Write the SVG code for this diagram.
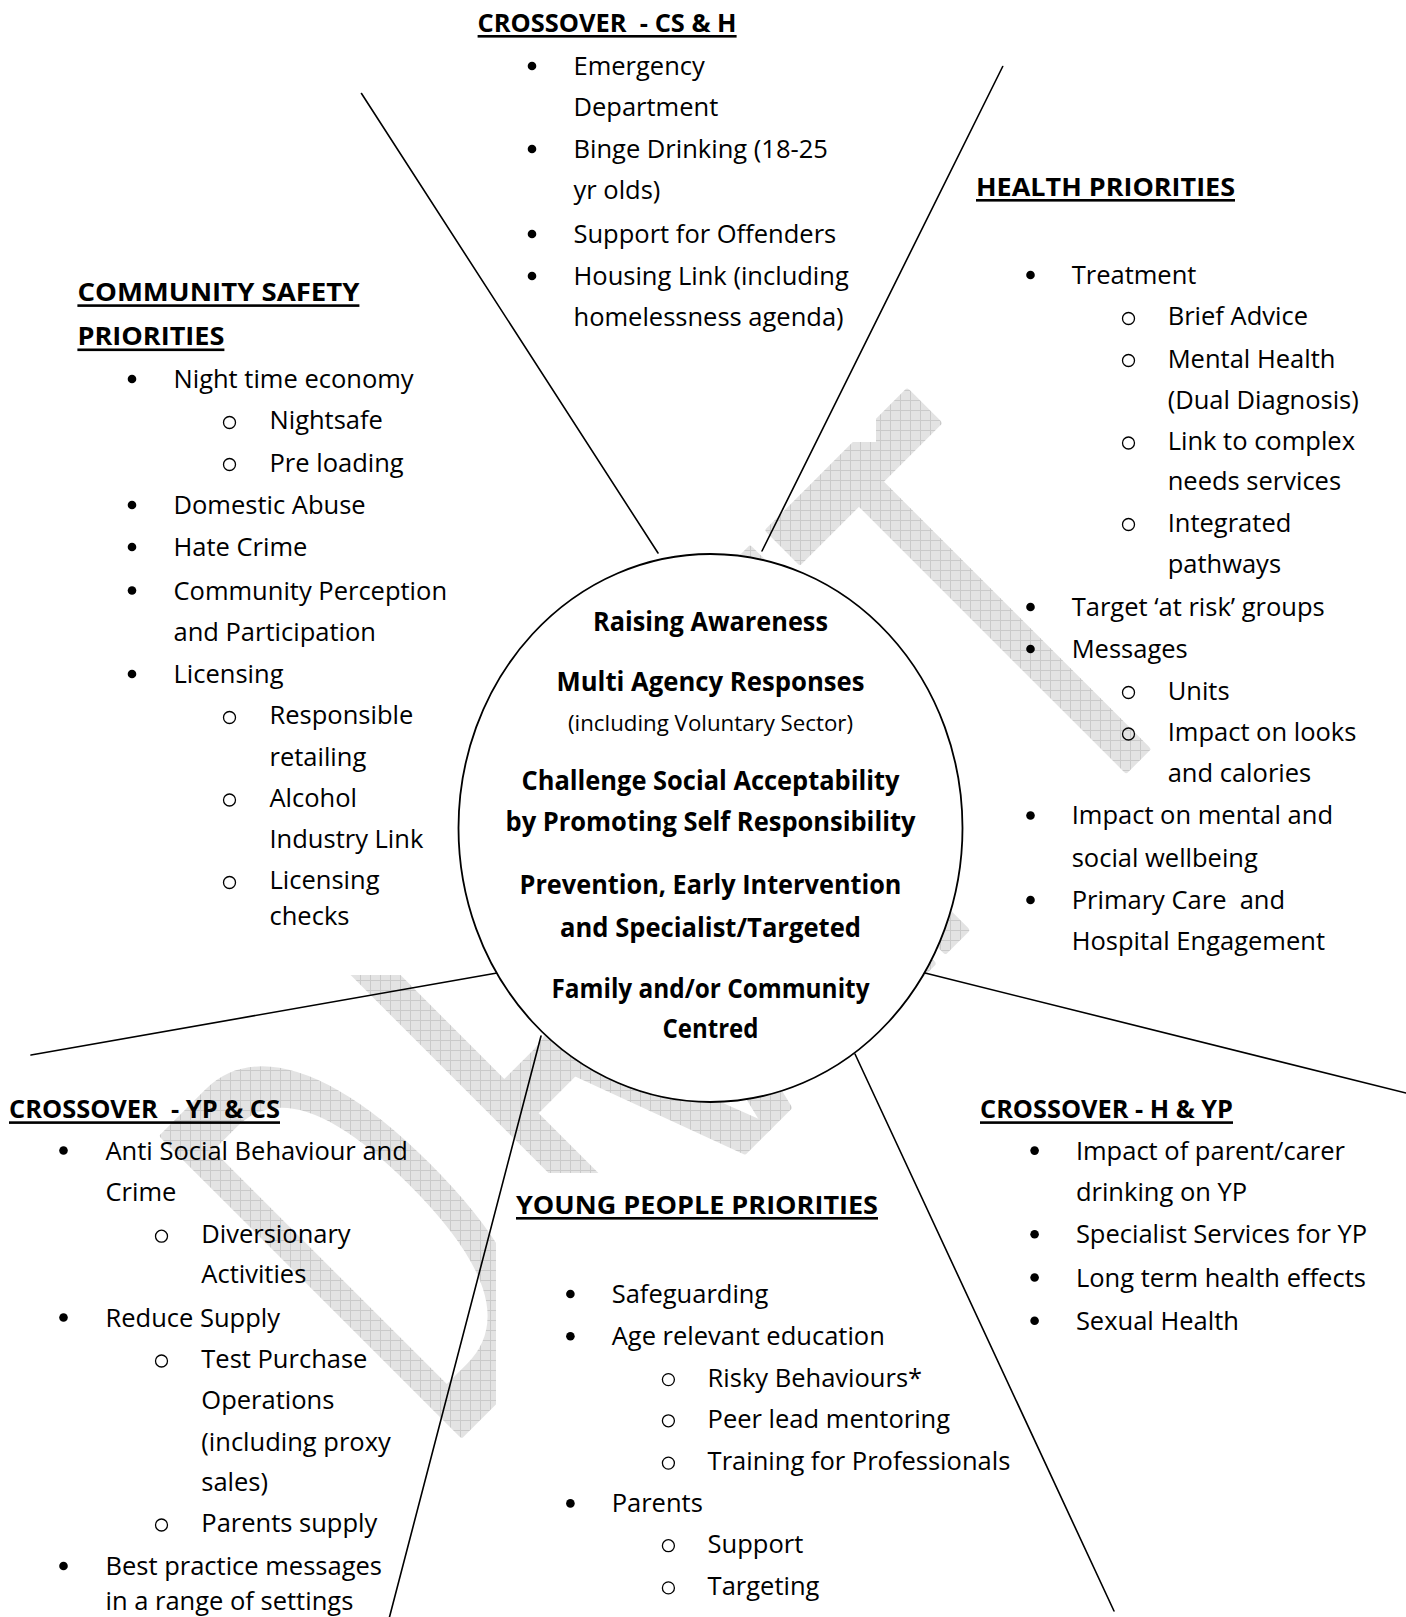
<svg xmlns="http://www.w3.org/2000/svg" width="1406" height="1617" viewBox="0 0 1406 1617">
  <style>
    .t { font-family: "Open Sans", "Noto Sans", "DejaVu Sans", sans-serif; font-size: 25.5px; fill: #000; }
    .h { font-weight: bold; }
    .c { font-weight: bold; font-size: 26.5px; text-anchor: middle; }
    .s { font-size: 22.2px; text-anchor: middle; }
    .dot { fill: #000; }
    .ring { fill: none; stroke: #000; stroke-width: 1.3; }
    .ul { fill: #000; }
    .conn { stroke: #000; stroke-width: 1.6; fill: none; stroke-linecap: round; }
    .wm { font-family: "Open Sans", "Noto Sans", sans-serif; font-size: 590px; fill: #fff; stroke: #fff; stroke-width: 7; stroke-linejoin: round; }
  </style>
  <defs>
    <pattern id="grid" width="10" height="10" patternUnits="userSpaceOnUse">
      <rect width="10" height="10" fill="#e3e3e3"/>
      <path d="M0 0.5H10M0.5 0V10" stroke="#cacaca" stroke-width="1"/>
    </pattern>
    <mask id="wmMask" maskUnits="userSpaceOnUse" x="0" y="0" width="1406" height="1617">
      <g transform="translate(947.7 947.7) rotate(-45) scale(0.63 1)">
        <g transform="translate(-1140 0) scale(0.8 1)">
          <text class="wm" x="0" y="0">D</text>
        </g>
        <text class="wm" x="-755" y="0">R</text>
        <text class="wm" x="-406" y="0">A</text>
        <text class="wm" x="-65" y="0">F</text>
        <text class="wm" x="261" y="0">T</text>
      </g>
      <!-- opaque text-box backgrounds that hide the watermark -->
      <rect x="440" y="0" width="436" height="442" fill="#000"/>
      <rect x="0" y="240" width="700" height="735" fill="#000"/>
      <rect x="496" y="1173" width="620" height="444" fill="#000"/>
    </mask>
  </defs>

  <rect width="1406" height="1617" fill="#fff"/>

  <g id="watermark">
    <rect width="1406" height="1617" fill="url(#grid)" mask="url(#wmMask)"/>
  </g>

  <g id="connectors">
    <line class="conn" x1="361.5" y1="93.5" x2="658" y2="553"/>
    <line class="conn" x1="1002.7" y1="66.5" x2="762" y2="551"/>
    <line class="conn" x1="31" y1="1055" x2="497" y2="973"/>
    <line class="conn" x1="925" y1="973" x2="1406" y2="1093"/>
    <line class="conn" x1="541" y1="1036" x2="389.5" y2="1617"/>
    <line class="conn" x1="855" y1="1054" x2="1114" y2="1611"/>
  </g>

  <g id="hub">
    <ellipse cx="710.5" cy="828" rx="252" ry="274" fill="#fff" stroke="#000" stroke-width="1.8"/>
    <text class="t c" x="710.5" y="630.5" textLength="235" lengthAdjust="spacingAndGlyphs">Raising Awareness</text>
    <text class="t c" x="710.5" y="691.4" textLength="308" lengthAdjust="spacingAndGlyphs">Multi Agency Responses</text>
    <text class="t s" x="710.5" y="731" textLength="285" lengthAdjust="spacingAndGlyphs">(including Voluntary Sector)</text>
    <text class="t c" x="710.5" y="789.5" textLength="378" lengthAdjust="spacingAndGlyphs">Challenge Social Acceptability</text>
    <text class="t c" x="710.5" y="831" textLength="410" lengthAdjust="spacingAndGlyphs">by Promoting Self Responsibility</text>
    <text class="t c" x="710.5" y="893.5" textLength="382" lengthAdjust="spacingAndGlyphs">Prevention, Early Intervention</text>
    <text class="t c" x="710.5" y="936.8" textLength="301" lengthAdjust="spacingAndGlyphs">and Specialist/Targeted</text>
    <text class="t c" x="710.5" y="997.5" textLength="318" lengthAdjust="spacingAndGlyphs">Family and/or Community</text>
    <text class="t c" x="710.5" y="1037.5" textLength="96" lengthAdjust="spacingAndGlyphs">Centred</text>
  </g>

  <g id="crossover-cs-h">
    <text class="t h" x="477.6" y="31.5" xml:space="preserve" textLength="259" lengthAdjust="spacingAndGlyphs">CROSSOVER  - CS &amp; H</text>
    <rect class="ul" x="477.6" y="35" width="259" height="2.6"/>
    <circle class="dot" cx="532" cy="66" r="4.3"/>
    <circle class="dot" cx="532" cy="149" r="4.3"/>
    <circle class="dot" cx="532" cy="234" r="4.3"/>
    <circle class="dot" cx="532" cy="276" r="4.3"/>
    <text class="t" x="573.5" y="74.5">Emergency</text>
    <text class="t" x="573.5" y="115.8">Department</text>
    <text class="t" x="573.5" y="158.1">Binge Drinking (18-25</text>
    <text class="t" x="573.5" y="199.3">yr olds)</text>
    <text class="t" x="573.5" y="242.7">Support for Offenders</text>
    <text class="t" x="573.5" y="285">Housing Link (including</text>
    <text class="t" x="573.5" y="326.2">homelessness agenda)</text>
  </g>

  <g id="health">
    <text class="t h" x="976" y="195.5" textLength="259" lengthAdjust="spacingAndGlyphs">HEALTH PRIORITIES</text>
    <rect class="ul" x="976" y="199" width="259" height="2.6"/>
    <circle class="dot" cx="1030.5" cy="275" r="4.3"/>
    <circle class="dot" cx="1030.5" cy="607" r="4.3"/>
    <circle class="dot" cx="1030.5" cy="649" r="4.3"/>
    <circle class="dot" cx="1030.5" cy="815.5" r="4.3"/>
    <circle class="dot" cx="1030.5" cy="900" r="4.3"/>
    <circle class="ring" cx="1128.5" cy="318.5" r="6"/>
    <circle class="ring" cx="1128.5" cy="360.5" r="6"/>
    <circle class="ring" cx="1128.5" cy="443" r="6"/>
    <circle class="ring" cx="1128.5" cy="524.5" r="6"/>
    <circle class="ring" cx="1128.5" cy="692.5" r="6"/>
    <circle class="ring" cx="1128.5" cy="734" r="6"/>
    <text class="t" x="1071.7" y="284">Treatment</text>
    <text class="t" x="1167.7" y="325.3">Brief Advice</text>
    <text class="t" x="1167.7" y="367.5">Mental Health</text>
    <text class="t" x="1167.7" y="408.7">(Dual Diagnosis)</text>
    <text class="t" x="1167.7" y="450">Link to complex</text>
    <text class="t" x="1167.7" y="490.2">needs services</text>
    <text class="t" x="1167.7" y="531.5">Integrated</text>
    <text class="t" x="1167.7" y="572.7">pathways</text>
    <text class="t" x="1071.7" y="616">Target ‘at risk’ groups</text>
    <text class="t" x="1071.7" y="658.3">Messages</text>
    <text class="t" x="1167.7" y="699.6">Units</text>
    <text class="t" x="1167.7" y="740.9">Impact on looks</text>
    <text class="t" x="1167.7" y="782.1">and calories</text>
    <text class="t" x="1071.7" y="824.4">Impact on mental and</text>
    <text class="t" x="1071.7" y="866.7">social wellbeing</text>
    <text class="t" x="1071.7" y="909" xml:space="preserve">Primary Care  and</text>
    <text class="t" x="1071.7" y="950.3">Hospital Engagement</text>
  </g>

  <g id="community-safety">
    <text class="t h" x="77.4" y="300.8" textLength="282" lengthAdjust="spacingAndGlyphs">COMMUNITY SAFETY</text>
    <rect class="ul" x="77.4" y="304.3" width="282" height="2.6"/>
    <text class="t h" x="77.4" y="345" textLength="147" lengthAdjust="spacingAndGlyphs">PRIORITIES</text>
    <rect class="ul" x="77.4" y="348.5" width="147" height="2.6"/>
    <circle class="dot" cx="132" cy="379" r="4.3"/>
    <circle class="dot" cx="132" cy="505" r="4.3"/>
    <circle class="dot" cx="132" cy="547" r="4.3"/>
    <circle class="dot" cx="132" cy="590.5" r="4.3"/>
    <circle class="dot" cx="132" cy="674" r="4.3"/>
    <circle class="ring" cx="229.5" cy="422.5" r="6"/>
    <circle class="ring" cx="229.5" cy="464.5" r="6"/>
    <circle class="ring" cx="229.5" cy="717.5" r="6"/>
    <circle class="ring" cx="229.5" cy="800" r="6"/>
    <circle class="ring" cx="229.5" cy="882.5" r="6"/>
    <text class="t" x="173.5" y="388">Night time economy</text>
    <text class="t" x="269.5" y="429.4">Nightsafe</text>
    <text class="t" x="269.5" y="471.6">Pre loading</text>
    <text class="t" x="173.5" y="513.9">Domestic Abuse</text>
    <text class="t" x="173.5" y="556.2">Hate Crime</text>
    <text class="t" x="173.5" y="599.5">Community Perception</text>
    <text class="t" x="173.5" y="640.8">and Participation</text>
    <text class="t" x="173.5" y="683.1">Licensing</text>
    <text class="t" x="269.5" y="724.4">Responsible</text>
    <text class="t" x="269.5" y="765.6">retailing</text>
    <text class="t" x="269.5" y="806.9">Alcohol</text>
    <text class="t" x="269.5" y="848.1">Industry Link</text>
    <text class="t" x="269.5" y="889.4">Licensing</text>
    <text class="t" x="269.5" y="924.5">checks</text>
  </g>

  <g id="crossover-yp-cs">
    <text class="t h" x="9" y="1117.8" xml:space="preserve" textLength="271" lengthAdjust="spacingAndGlyphs">CROSSOVER  - YP &amp; CS</text>
    <rect class="ul" x="9" y="1121.3" width="271" height="2.6"/>
    <circle class="dot" cx="63.5" cy="1150.5" r="4.3"/>
    <circle class="dot" cx="63.5" cy="1317.5" r="4.3"/>
    <circle class="dot" cx="63.5" cy="1566" r="4.3"/>
    <circle class="ring" cx="161.5" cy="1236.2" r="6"/>
    <circle class="ring" cx="161.5" cy="1361" r="6"/>
    <circle class="ring" cx="161.5" cy="1525" r="6"/>
    <text class="t" x="105.5" y="1159.6">Anti Social Behaviour and</text>
    <text class="t" x="105.5" y="1201">Crime</text>
    <text class="t" x="201.3" y="1243.2">Diversionary</text>
    <text class="t" x="201.3" y="1283.4">Activities</text>
    <text class="t" x="105.5" y="1326.8">Reduce Supply</text>
    <text class="t" x="201.3" y="1368">Test Purchase</text>
    <text class="t" x="201.3" y="1409.3">Operations</text>
    <text class="t" x="201.3" y="1450.5">(including proxy</text>
    <text class="t" x="201.3" y="1490.8">sales)</text>
    <text class="t" x="201.3" y="1532">Parents supply</text>
    <text class="t" x="105.5" y="1575">Best practice messages</text>
    <text class="t" x="105.5" y="1610.4">in a range of settings</text>
  </g>

  <g id="young-people">
    <text class="t h" x="516" y="1213.5" textLength="362" lengthAdjust="spacingAndGlyphs">YOUNG PEOPLE PRIORITIES</text>
    <rect class="ul" x="516" y="1217" width="362" height="2.6"/>
    <circle class="dot" cx="570.4" cy="1294" r="4.3"/>
    <circle class="dot" cx="570.4" cy="1336.3" r="4.3"/>
    <circle class="dot" cx="570.4" cy="1503.4" r="4.3"/>
    <circle class="ring" cx="668.4" cy="1379.6" r="6"/>
    <circle class="ring" cx="668.4" cy="1420.8" r="6"/>
    <circle class="ring" cx="668.4" cy="1463.1" r="6"/>
    <circle class="ring" cx="668.4" cy="1545.7" r="6"/>
    <circle class="ring" cx="668.4" cy="1587.9" r="6"/>
    <text class="t" x="611.7" y="1303">Safeguarding</text>
    <text class="t" x="611.7" y="1345.3">Age relevant education</text>
    <text class="t" x="707.6" y="1386.6">Risky Behaviours*</text>
    <text class="t" x="707.6" y="1427.8">Peer lead mentoring</text>
    <text class="t" x="707.6" y="1470.1">Training for Professionals</text>
    <text class="t" x="611.7" y="1512.4">Parents</text>
    <text class="t" x="707.6" y="1552.7">Support</text>
    <text class="t" x="707.6" y="1594.9">Targeting</text>
  </g>

  <g id="crossover-h-yp">
    <text class="t h" x="980" y="1117.8" textLength="253" lengthAdjust="spacingAndGlyphs">CROSSOVER - H &amp; YP</text>
    <rect class="ul" x="980" y="1121.3" width="253" height="2.6"/>
    <circle class="dot" cx="1034.6" cy="1150.6" r="4.3"/>
    <circle class="dot" cx="1034.6" cy="1234.2" r="4.3"/>
    <circle class="dot" cx="1034.6" cy="1277.5" r="4.3"/>
    <circle class="dot" cx="1034.6" cy="1320.8" r="4.3"/>
    <text class="t" x="1075.9" y="1159.6">Impact of parent/carer</text>
    <text class="t" x="1075.9" y="1201">drinking on YP</text>
    <text class="t" x="1075.9" y="1243.2">Specialist Services for YP</text>
    <text class="t" x="1075.9" y="1286.5">Long term health effects</text>
    <text class="t" x="1075.9" y="1329.8">Sexual Health</text>
  </g>
</svg>
